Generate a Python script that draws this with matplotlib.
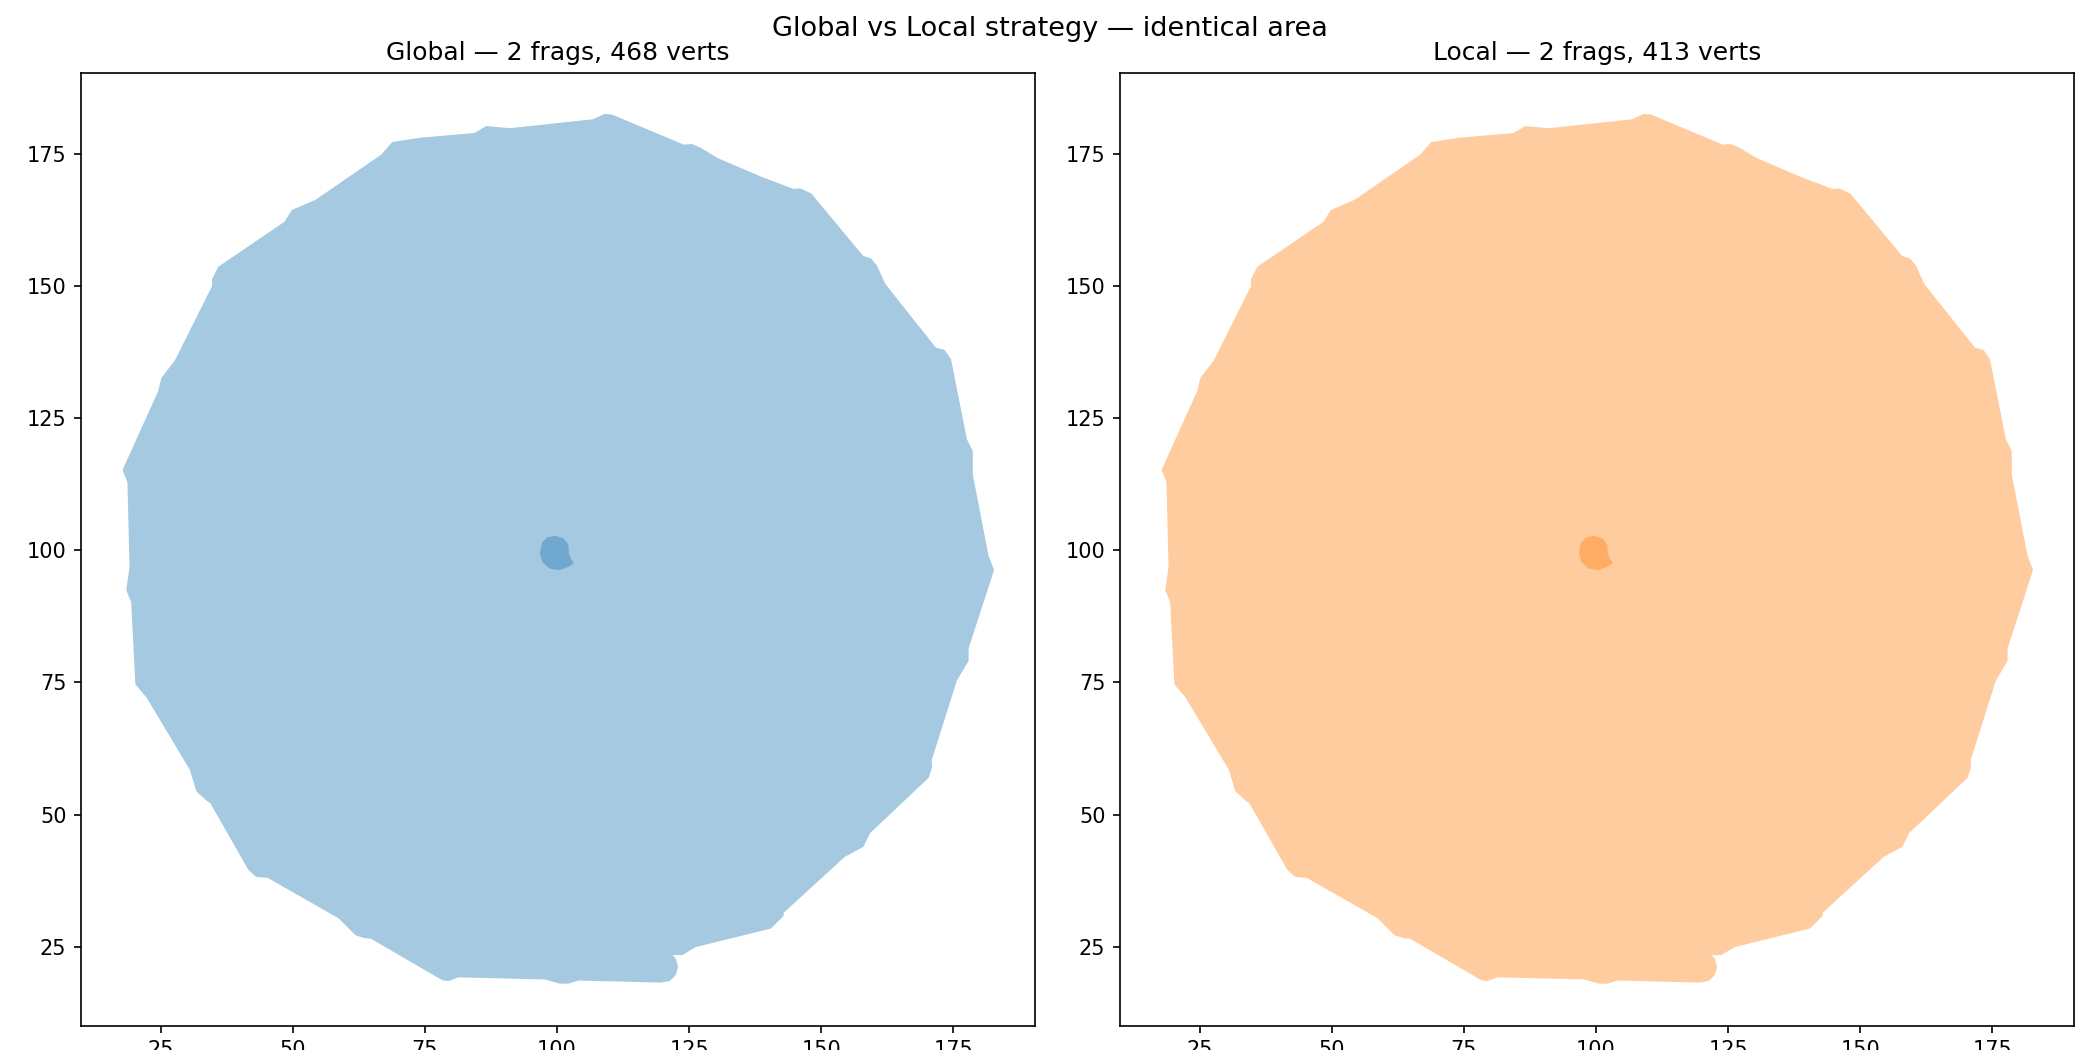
import matplotlib
matplotlib.use("Agg")
import matplotlib.pyplot as plt
from matplotlib.patches import Polygon
from matplotlib.colors import to_rgb

# Outer fragment outline (data coordinates)
outer_x = [110.3, 109.1, 106.9, 91.1, 86.7, 84.5, 74.1, 69.0, 67.0, 54.5,
           50.1, 48.7, 36.2, 35.1, 35.1, 28.0, 25.5, 24.9, 18.2, 19.1,
           19.5, 18.9, 19.8, 20.6, 22.7, 30.9, 32.1, 34.0, 34.7, 41.9,
           43.2, 45.4, 58.9, 62.1, 63.7, 64.9, 78.5, 79.4, 81.3, 97.7,
           100.6, 102.1, 104.0, 119.5, 121.15, 122.14, 122.5, 122.14, 121.15, 121.9,
           123.6, 126.1, 140.3, 142.5, 142.5, 154.2, 157.7, 158.9, 170.0, 170.6,
           170.5, 175.3, 177.5, 177.5, 182.3, 181.3, 178.3, 178.3, 177.2, 174.2,
           173.1, 171.5, 161.8, 160.2, 159.2, 157.7, 147.9, 146.0, 144.7, 138.4,
           130.2, 127.1, 125.5, 123.9]
outer_y = [182.1, 182.2, 181.2, 179.5, 179.9, 178.6, 177.7, 176.9, 174.6, 166.0,
           164.1, 161.9, 153.4, 151.2, 149.9, 135.7, 132.5, 130.0, 115.2, 113.0,
           96.9, 92.5, 90.3, 74.8, 72.3, 58.6, 54.6, 52.9, 52.4, 39.8,
           38.6, 38.4, 30.7, 27.5, 27.0, 26.9, 19.0, 18.9, 19.6, 19.2,
           18.4, 18.4, 19.0, 18.6, 18.86, 19.85, 21.2, 22.55, 23.54, 23.8,
           23.8, 25.3, 28.8, 31.0, 31.6, 42.3, 44.2, 46.7, 57.2, 59.1,
           60.3, 75.5, 79.2, 81.5, 96.3, 98.8, 114.3, 118.7, 120.9, 136.0,
           137.6, 138.0, 150.2, 153.7, 154.9, 155.4, 167.2, 168.1, 168.0, 170.4,
           173.9, 175.8, 176.5, 176.4]

# Small central fragment (overlaps the outer one)
inner_x = [99.6, 101.2, 102.0, 102.1, 102.5, 103.0, 102.3, 100.4, 98.7, 97.4, 96.9, 97.3, 98.2]
inner_y = [102.6, 102.1, 101.0, 99.4, 98.3, 97.7, 97.1, 96.4, 96.7, 97.8, 99.5, 101.4, 102.3]

panels = ["Global", "Local"]
frag_counts = [2, 2]
vert_counts = [468, 413]
colors = ["tab:blue", "tab:orange"]
ALPHA = 0.4


def blend(color, layers):
    c = to_rgb(color)
    keep = (1 - ALPHA) ** layers
    return tuple(1 - (1 - keep) * (1 - v) for v in c)


fig = plt.figure(figsize=(14, 7), dpi=150)
W, H = 2100, 1050
positions = [
    [81 / W, (H - 1025.7) / H, 954 / W, 953 / H],
    [1120 / W, (H - 1025.7) / H, 954 / W, 953 / H],
]

for pos, name, nf, nv, col in zip(positions, panels, frag_counts, vert_counts, colors):
    ax = fig.add_axes(pos)
    c1 = blend(col, 1)
    c2 = blend(col, 2)
    ax.add_patch(Polygon(list(zip(outer_x, outer_y)), closed=True,
                         facecolor=c1, edgecolor=c1, linewidth=2.0,
                         joinstyle="round"))
    ax.add_patch(Polygon(list(zip(inner_x, inner_y)), closed=True,
                         facecolor=c2, edgecolor=c2, linewidth=0.8,
                         joinstyle="round"))
    ax.set_xlim(9.92, 190.46)
    ax.set_ylim(10.05, 190.4)
    ax.set_xticks([25, 50, 75, 100, 125, 150, 175])
    ax.set_yticks([25, 50, 75, 100, 125, 150, 175])
    ax.set_title(f"{name} — {nf} frags, {nv} verts", fontsize=12)

fig.suptitle("Global vs Local strategy — identical area", fontsize=13, y=0.985)
fig.savefig("out.png", dpi=150)
